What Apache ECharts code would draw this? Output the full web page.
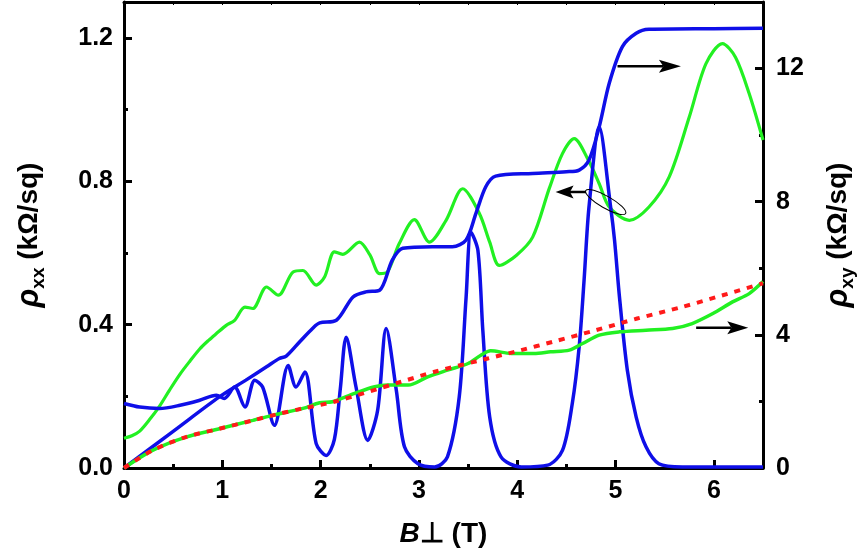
<!DOCTYPE html>
<html><head><meta charset="utf-8">
<script src="https://cdn.jsdelivr.net/npm/echarts@6/dist/echarts.min.js"></script>
<style>html,body{margin:0;padding:0;background:#fff}#c{width:865px;height:557px}</style>
</head><body><div id="c"></div>
<script>
// ---- data ----
// upper green curve: rho_xx (left axis)
const greenRxxB = [0,0.08,0.16,0.26,0.36,0.46,0.57,0.67,0.77,0.86,0.94,1.04,1.125,1.23,1.31,1.45,1.57,1.72,1.82,1.955,2.04,2.14,2.226,2.395,2.5,2.6,2.68,2.8,2.954,3.107,3.276,3.445,3.615,3.72,3.818,3.99,4.157,4.326,4.46,4.58,4.716,4.834,4.936,5.14,5.34,5.546,5.75,5.92,6.087,6.22,6.36,6.5];
const greenRxx  = [0.083,0.09,0.103,0.135,0.172,0.216,0.262,0.298,0.332,0.356,0.375,0.398,0.412,0.449,0.445,0.505,0.482,0.547,0.551,0.51,0.533,0.603,0.596,0.63,0.595,0.542,0.547,0.626,0.693,0.63,0.691,0.779,0.71,0.63,0.565,0.593,0.644,0.78,0.877,0.919,0.863,0.793,0.728,0.691,0.728,0.812,0.979,1.128,1.184,1.146,1.044,0.915];
// blue oscillating curve: rho_xx (left axis)
const blueRxxB = [0,0.16,0.36,0.57,0.77,0.94,1.02,1.125,1.23,1.33,1.41,1.53,1.67,1.75,1.84,1.955,2.057,2.14,2.2,2.26,2.36,2.48,2.58,2.667,2.77,2.853,2.99,3.16,3.29,3.41,3.48,3.53,3.6,3.65,3.72,3.835,4.04,4.31,4.46,4.56,4.63,4.68,4.73,4.834,4.95,4.99,5.04,5.12,5.21,5.31,5.44,5.68,6.0,6.5];
const blueRxx  = [0.18,0.17,0.166,0.175,0.189,0.203,0.194,0.226,0.17,0.245,0.226,0.119,0.286,0.226,0.268,0.068,0.035,0.08,0.22,0.365,0.226,0.077,0.161,0.389,0.217,0.059,0.012,0.003,0.031,0.198,0.477,0.658,0.607,0.384,0.142,0.031,0.003,0.008,0.049,0.18,0.338,0.524,0.728,0.951,0.728,0.635,0.477,0.273,0.142,0.059,0.012,0.003,0.003,0.003];
// blue plateau curve: rho_xy (right axis)
const blueRxyB = [0,0.5,0.97,1.24,1.45,1.58,1.65,1.79,1.92,1.99,2.16,2.33,2.46,2.6,2.73,2.835,3.14,3.34,3.48,3.58,3.68,3.78,4.157,4.5,4.63,4.73,4.834,4.936,5.07,5.21,5.34,6.0,6.5];
const blueRxy  = [0,1.1,2.135,2.64,3.04,3.29,3.36,3.8,4.2,4.36,4.44,5.14,5.29,5.34,6.25,6.6,6.65,6.65,6.85,7.65,8.45,8.77,8.85,8.9,8.95,9.25,10.25,11.56,12.66,13.06,13.18,13.2,13.21];
// lower green curve: rho_xy (right axis)
const greenRxyB = [0,0.29,0.63,0.97,1.31,1.55,1.82,1.99,2.12,2.345,2.55,2.68,2.89,3.09,3.29,3.5,3.63,3.73,3.94,4.17,4.34,4.53,4.665,4.834,5.04,5.31,5.58,5.78,5.99,6.19,6.36,6.5];
const greenRxy  = [0,0.53,0.93,1.18,1.43,1.61,1.79,1.96,1.99,2.24,2.44,2.49,2.49,2.74,2.94,3.14,3.39,3.52,3.44,3.44,3.49,3.54,3.74,3.99,4.09,4.14,4.19,4.34,4.64,4.99,5.24,5.6];
// red dotted reference line (right axis)
const fitB   = [0,0.29,0.63,0.97,1.31,1.55,1.82,2.14,2.82,3.16,3.7,4.04,4.36,4.8,5.22,5.68,6.09,6.5];
const fitRxy = [0,0.53,0.93,1.18,1.43,1.61,1.79,1.99,2.59,2.89,3.29,3.54,3.79,4.14,4.49,4.84,5.19,5.55];

// annotation anchors in data units
const arrowTop   = {axis: 'right', from: [5.02, 12.07], to: [5.665, 12.07]};
const arrowLeft  = {axis: 'left',  from: [4.70, 0.77],  to: [4.39, 0.77]};
const arrowLow   = {axis: 'right', from: [5.82, 4.21],  to: [6.35, 4.21]};
const ellipseAt  = {axis: 'left',  center: [4.90, 0.742]};

const zip = (a, b) => a.map((x, i) => [x, b[i]]);
const FONT = '"Liberation Sans", Arial, sans-serif';
const BLACK = '#000';
const TICK_FONT = 25;

function majorAxisStyle(extra) {
  return Object.assign({
    axisLine: {show: true, onZero: false, lineStyle: {color: BLACK, width: 3}},
    axisTick: {show: true, inside: true, length: 8, lineStyle: {color: BLACK, width: 3}},
    splitLine: {show: false},
    minorTick: {show: false}
  }, extra);
}
function minorAxisStyle(extra) {
  return Object.assign({
    axisLine: {show: false, onZero: false},
    axisTick: {show: true, inside: true, length: 4, lineStyle: {color: BLACK, width: 3}},
    splitLine: {show: false},
    axisLabel: {show: false}
  }, extra);
}

const nameRich = {
  r: {fontFamily: FONT, fontStyle: 'italic', fontWeight: 'bold', fontSize: 31, color: BLACK, lineHeight: 38},
  s: {fontFamily: FONT, fontWeight: 'bold', fontSize: 19, color: BLACK, lineHeight: 20, verticalAlign: 'bottom'},
  n: {fontFamily: FONT, fontWeight: 'bold', fontSize: 28, color: BLACK, lineHeight: 38},
  b: {fontFamily: FONT, fontStyle: 'italic', fontWeight: 'bold', fontSize: 28, color: BLACK, lineHeight: 32},
  m: {fontFamily: FONT, fontWeight: 'bold', fontSize: 28, color: BLACK, lineHeight: 32}
};
const tickLabel = (margin, extra) => Object.assign({show: true, color: BLACK, fontFamily: FONT, fontWeight: 'bold',
  fontSize: TICK_FONT, margin: margin, showMaxLabel: false}, extra || {});

const option = {
  animation: false,
  backgroundColor: '#fff',
  grid: {left: 124, right: 102, top: 2, bottom: 89, containLabel: false},
  xAxis: [
    majorAxisStyle({type: 'value', position: 'bottom', min: 0, max: 6.5, interval: 1,
      axisLabel: tickLabel(11),
      name: '{b|B}{m|⊥ (T)}', nameLocation: 'middle', nameGap: 50,
      nameTextStyle: {rich: nameRich}}),
    minorAxisStyle({type: 'value', position: 'bottom', min: 0, max: 6.5, interval: 0.5}),
    {type: 'value', position: 'top', min: 0, max: 6.5, interval: 0.5,
      axisLine: {show: true, onZero: false, lineStyle: {color: BLACK, width: 3}},
      axisTick: {show: true, inside: true, length: 3, lineStyle: {color: BLACK, width: 1}},
      axisLabel: {show: false}, splitLine: {show: false}}
  ],
  yAxis: [
    majorAxisStyle({type: 'value', position: 'left', min: 0, max: 1.3, interval: 0.4,
      axisLabel: tickLabel(11, {formatter: v => v.toFixed(1)}),
      name: '{r|ρ}{s|xx}{n| (kΩ/sq)}', nameLocation: 'middle', nameRotate: 90, nameGap: 76,
      nameTextStyle: {rich: nameRich}}),
    minorAxisStyle({type: 'value', position: 'left', min: 0, max: 1.3, interval: 0.2}),
    majorAxisStyle({type: 'value', position: 'right', min: 0, max: 14, interval: 4,
      axisLabel: tickLabel(13),
      name: '{r|ρ}{s|xy}{n| (kΩ/sq)}', nameLocation: 'middle', nameRotate: 90, nameGap: 56,
      nameTextStyle: {rich: nameRich}}),
    minorAxisStyle({type: 'value', position: 'right', min: 0, max: 14, interval: 2})
  ],
  series: [
    {name: 'green rho_xx', type: 'line', xAxisIndex: 0, yAxisIndex: 0, data: zip(greenRxxB, greenRxx),
      showSymbol: false, smooth: 0.3, lineStyle: {color: '#22f022', width: 3.2}, z: 2},
    {name: 'blue rho_xy', type: 'line', xAxisIndex: 0, yAxisIndex: 2, data: zip(blueRxyB, blueRxy),
      showSymbol: false, smooth: 0.3, lineStyle: {color: '#0f0fe8', width: 3.5}, z: 3},
    {name: 'blue rho_xx', type: 'line', xAxisIndex: 0, yAxisIndex: 0, data: zip(blueRxxB, blueRxx),
      showSymbol: false, smooth: 0.3, lineStyle: {color: '#0f0fe8', width: 3.5}, z: 4},
    {name: 'green rho_xy', type: 'line', xAxisIndex: 0, yAxisIndex: 2, data: zip(greenRxyB, greenRxy),
      showSymbol: false, smooth: 0.3, lineStyle: {color: '#22f022', width: 3.5}, z: 5},
    {name: 'fit', type: 'line', xAxisIndex: 0, yAxisIndex: 2, data: zip(fitB, fitRxy),
      showSymbol: false, smooth: 0.3, lineStyle: {color: '#ff1a1a', width: 4, type: [6, 7]}, z: 6}
  ]
};

const chart = echarts.init(document.getElementById('c'), null, {renderer: 'canvas'});
chart.setOption(option);

function toPx(axis, pt) {
  return chart.convertToPixel({seriesIndex: axis === 'left' ? 0 : 1}, pt);
}
function arrowGraphics(a, headLen, headW) {
  const p0 = toPx(a.axis, a.from), p1 = toPx(a.axis, a.to);
  const dx = p1[0] - p0[0], dy = p1[1] - p0[1];
  const L = Math.hypot(dx, dy), ux = dx / L, uy = dy / L, nx = -uy, ny = ux;
  const bx = p1[0] - ux * headLen, by = p1[1] - uy * headLen;
  const kx = p1[0] - ux * headLen * 0.8, ky = p1[1] - uy * headLen * 0.8;
  return [
    {type: 'line', shape: {x1: p0[0], y1: p0[1], x2: kx, y2: ky}, style: {stroke: BLACK, lineWidth: 2.5}, z: 100},
    {type: 'polygon', shape: {points: [[p1[0], p1[1]], [bx + nx * headW / 2, by + ny * headW / 2], [kx, ky], [bx - nx * headW / 2, by - ny * headW / 2]]},
      style: {fill: BLACK}, z: 100}
  ];
}
const ec = toPx(ellipseAt.axis, ellipseAt.center);
chart.setOption({
  graphic: [].concat(
    arrowGraphics(arrowTop, 22, 13),
    arrowGraphics(arrowLeft, 18, 13),
    arrowGraphics(arrowLow, 21, 13),
    [{type: 'ellipse', x: ec[0], y: ec[1], rotation: -0.52, shape: {cx: 0, cy: 0, rx: 23, ry: 6},
      style: {fill: 'none', stroke: BLACK, lineWidth: 1}, z: 100}]
  )
});
</script>
</body></html>
